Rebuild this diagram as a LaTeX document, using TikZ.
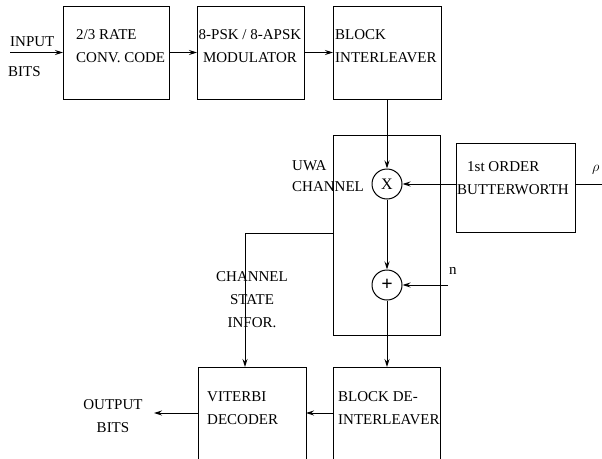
\documentclass[tikz,border=0pt]{standalone}
\usepackage{fontspec}
\setmainfont{Liberation Serif}
\usetikzlibrary{arrows.meta}
\begin{document}
\begin{tikzpicture}[x=1pt,y=-1pt,
  blk/.style={draw, line width=1pt, inner sep=0pt, outer sep=0pt, rectangle},
  sumc/.style={draw, circle, line width=1pt, minimum size=30pt, inner sep=0pt, font=\fontsize{16}{16}\selectfont},
  lbl/.style={font=\fontsize{15}{23}\selectfont, inner sep=0pt, align=left, anchor=west},
  arr/.style={-{Stealth[length=8pt,width=5pt]}, line width=1pt},
  ln/.style={line width=1pt}]
\useasboundingbox (0,0) rectangle (602,458);
\clip (0,0) rectangle (602,458);
% blocks
\node[blk, minimum width=106pt, minimum height=93pt] (conv) at (116,52.5) {};
\node[blk, minimum width=107pt, minimum height=93pt] (mod) at (250.5,52.5) {};
\node[blk, minimum width=108pt, minimum height=93pt] (intl) at (387,52.5) {};
\node[blk, minimum width=107pt, minimum height=200pt] (chan) at (386.5,235) {};
\node[blk, minimum width=119pt, minimum height=89pt] (butt) at (515.5,187.5) {};
\node[sumc] (mul) at (387,184) {X};
\node[sumc, font=\fontsize{20}{20}\selectfont\bfseries] (add) at (387,285) {+};
\node[blk, minimum width=108pt, minimum height=113pt] (vit) at (252,423.5) {};
\node[blk, minimum width=107pt, minimum height=113pt] (deint) at (386.5,423.5) {};
% coordinates
\coordinate (in) at (10,52.5);
\coordinate (rhoend) at (602,184);
\coordinate (nin) at (448,285);
\coordinate (csi) at (245,233);
\coordinate (out) at (154,413);
% connectors
\draw[arr] (in) -- (conv.west);
\draw[arr] (conv.east) -- (mod.west);
\draw[arr] (mod.east) -- (intl.west);
\draw[arr] (intl.south) -- (mul.north);
\draw[arr] (mul.east -| butt.west) -- (mul.east);
\draw[ln] (rhoend -| butt.east) -- (rhoend);
\draw[arr] (mul.south) -- (add.north);
\draw[arr] (nin) -- (add.east);
\draw[arr] (add.south) -- (add.south |- deint.north);
\draw[ln] (chan.west |- csi) -- (csi);
\draw[arr] (csi) -- (csi |- vit.north);
\draw[arr] ([yshift=10.5pt]deint.west) -- ([yshift=10.5pt]vit.east);
\draw[arr] ([yshift=10.5pt]vit.west) -- (out);
% labels
\node[lbl] (tin) at (10,42) {INPUT};
\node[lbl] (tbits) at (8,72) {BITS};
\node[lbl] (t1) at (76,46.5) {2/3 RATE\\CONV. CODE};
\node[lbl, align=center, anchor=center] (t2) at (250,46) {8-PSK / 8-APSK\\MODULATOR};
\node[lbl] (t3) at (335,46) {BLOCK\\INTERLEAVER};
\node[lbl, font=\fontsize{15}{21}\selectfont] (t4) at (292,176) {UWA\\CHANNEL};
\node[lbl] (t5) at (457,178.5) {\hspace*{10pt}1st ORDER\\BUTTERWORTH};
\node[lbl] (trho) at (592,170) {$\rho$};
\node[lbl] (tn) at (449,271) {n};
\node[lbl, align=center, anchor=center] (t6) at (252,300) {CHANNEL\\STATE\\INFOR.};
\node[lbl] (t7) at (207,408.5) {VITERBI\\DECODER};
\node[lbl] (t8) at (338,408.5) {BLOCK DE-\\INTERLEAVER};
\node[lbl, align=center, anchor=center] (t9) at (113,416.5) {OUTPUT\\BITS};
\end{tikzpicture}
\end{document}
